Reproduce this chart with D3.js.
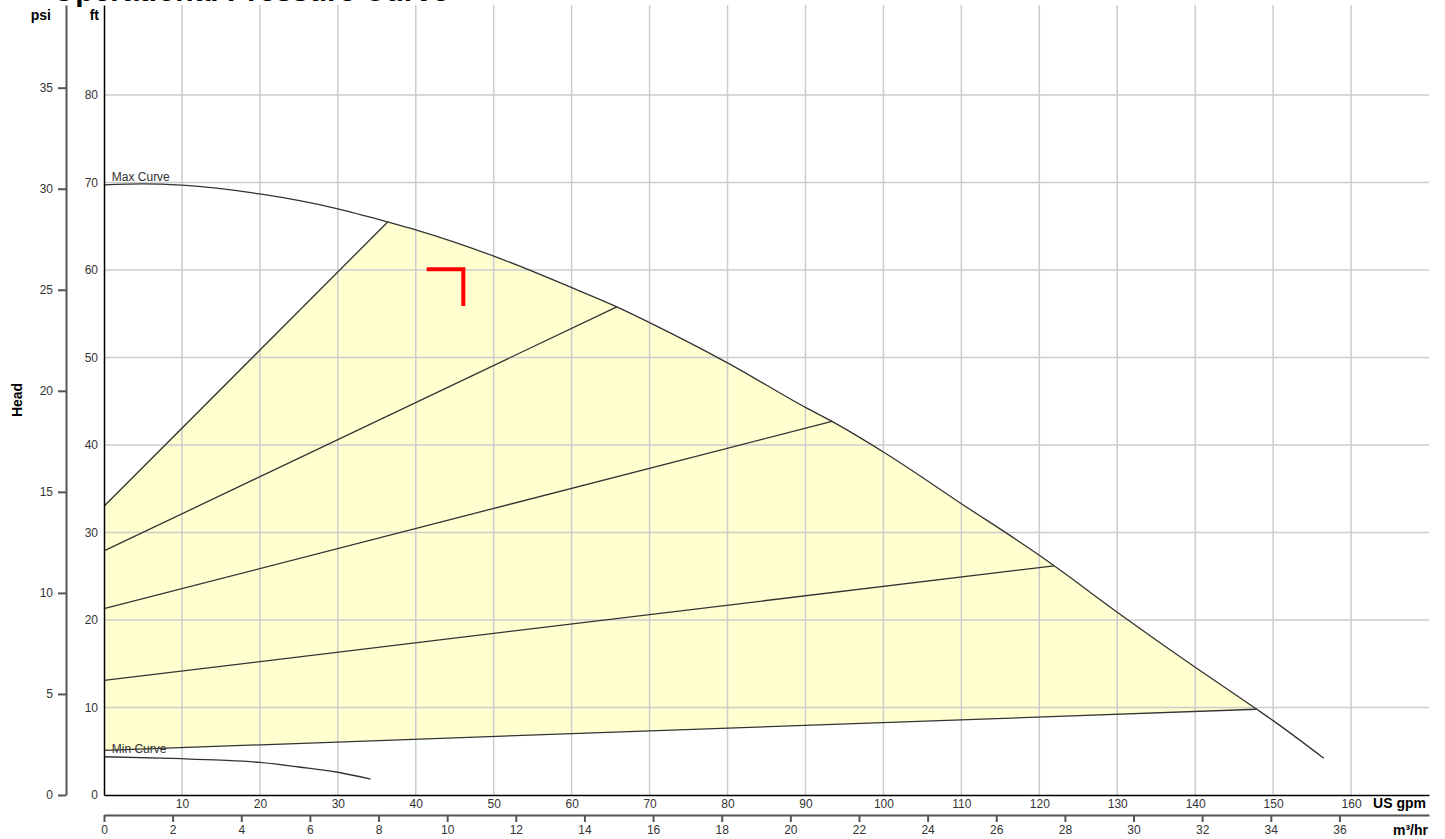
<!DOCTYPE html>
<html>
<head>
<meta charset="utf-8">
<script src="https://cdn.jsdelivr.net/npm/d3@7"></script>
<style>
	body { margin: 0; background: #fff; }
	svg { display: block; font-family: 'Liberation Sans', Arial, sans-serif; }
	.tick text { fill: #333; font-size: 12px; }
</style>
</head>
<body>
<svg id="chart" width="1445" height="839"></svg>
<script>
// flow in US gpm, head in ft
const flowTicks = [10, 20, 30, 40, 50, 60, 70, 80, 90, 100, 110, 120, 130, 140, 150, 160];
const m3Ticks = [0, 2, 4, 6, 8, 10, 12, 14, 16, 18, 20, 22, 24, 26, 28, 30, 32, 34, 36];
const ftTicks = [0, 10, 20, 30, 40, 50, 60, 70, 80];
const psiTicks = [0, 5, 10, 15, 20, 25, 30, 35];

const maxCurveFlow = [0, 5, 10, 20, 30, 36.4, 40, 50, 60, 65.8, 70, 80, 90, 93.4, 100, 110, 120, 121.9, 130, 140, 147.9, 150, 156.5];
const maxCurveHead = [69.75, 69.85, 69.7, 68.7, 67.0, 65.5, 64.6, 61.6, 58.0, 55.8, 54.0, 49.4, 44.3, 42.7, 39.2, 33.3, 27.4, 26.2, 20.9, 14.6, 9.8, 8.5, 4.2];

const minCurveFlow = [0, 10, 15, 20, 25, 30, 34.2];
const minCurveHead = [4.37, 4.15, 3.98, 3.72, 3.2, 2.6, 1.81];

// speed lines: head at zero flow, end point on the max curve
const speedStartHead = [33.0, 27.9, 21.3, 13.1, 5.1];
const speedEndFlow = [36.4, 65.8, 93.4, 121.9, 147.9];
const speedEndHead = [65.5, 55.8, 42.7, 26.2, 9.8];

// duty point marker
const markerFlow = [41.4, 46.1, 46.1];
const markerHead = [60.1, 60.1, 55.9];

const svg = d3.select('#chart');
const plotLeft = 104, plotRight = 1429, plotTop = 5, plotBottom = 795;

const x = d3.scaleLinear().domain([0, 170]).range([plotLeft, plotRight]);
const xM3 = d3.scaleLinear().domain([0, 170 / 4.403]).range([plotLeft, plotRight]);
const y = d3.scaleLinear().domain([0, 90.3]).range([plotBottom, plotTop]);
const yPsi = d3.scaleLinear().domain([0, 90.3 / 2.31]).range([plotBottom, plotTop]);

const line = d3.line().x((d) => x(d[0])).y((d) => y(d[1]));
const smooth = d3.line().x((d) => x(d[0])).y((d) => y(d[1])).curve(d3.curveMonotoneX);

// title, cut off by the top edge like in the original
svg.append('text')
	.attr('x', 52).attr('y', 1)
	.style('font-size', '30px').style('font-weight', 'bold').attr('fill', '#000')
	.text('Operational Pressure Curve');

// yellow operating area
const area = [[0, speedStartHead[0]]];
maxCurveFlow.forEach((f, i) => {
	if (f >= speedEndFlow[0] && f <= speedEndFlow[4]) area.push([f, maxCurveHead[i]]);
});
area.push([0, speedStartHead[4]]);
svg.append('path').attr('d', line(area) + 'Z').attr('fill', '#ffffd0');

// grid
svg.append('g').selectAll('line').data(flowTicks).join('line')
	.attr('x1', (d) => x(d)).attr('x2', (d) => x(d))
	.attr('y1', plotTop).attr('y2', plotBottom)
	.attr('stroke', '#cccccc').attr('stroke-width', 1.5);
svg.append('g').selectAll('line').data(ftTicks.filter((d) => d > 0)).join('line')
	.attr('x1', plotLeft).attr('x2', plotRight)
	.attr('y1', (d) => y(d)).attr('y2', (d) => y(d))
	.attr('stroke', '#cccccc').attr('stroke-width', 1.5);

// curves
svg.append('path')
	.attr('d', smooth(maxCurveFlow.map((f, i) => [f, maxCurveHead[i]])))
	.attr('fill', 'none').attr('stroke', '#333').attr('stroke-width', 1.3);
svg.append('path')
	.attr('d', smooth(minCurveFlow.map((f, i) => [f, minCurveHead[i]])))
	.attr('fill', 'none').attr('stroke', '#333').attr('stroke-width', 1.3);
speedStartHead.forEach((h, i) => {
	svg.append('path')
		.attr('d', line([[0, h], [speedEndFlow[i], speedEndHead[i]]]))
		.attr('fill', 'none').attr('stroke', '#333').attr('stroke-width', 1.3);
});

svg.append('path')
	.attr('d', line(markerFlow.map((f, i) => [f, markerHead[i]])))
	.attr('fill', 'none').attr('stroke', '#ff0000').attr('stroke-width', 4);

svg.append('text').attr('x', x(1)).attr('y', y(maxCurveHead[0]) - 4)
	.style('font-size', '12px').attr('fill', '#333').text('Max Curve');
svg.append('text').attr('x', x(1)).attr('y', y(minCurveHead[0]) - 4)
	.style('font-size', '12px').attr('fill', '#333').text('Min Curve');

// axes
const ftAxis = svg.append('g').attr('transform', `translate(${plotLeft},0)`)
	.call(d3.axisLeft(y).tickValues(ftTicks).tickSize(0).tickSizeOuter(0).tickPadding(6));
ftAxis.select('.domain').attr('stroke', '#000').attr('stroke-width', 1.5);

const psiAxis = svg.append('g').attr('transform', 'translate(66,0)')
	.call(d3.axisLeft(yPsi).tickValues(psiTicks).tickSize(8).tickSizeOuter(0).tickPadding(5));
psiAxis.selectAll('.domain, .tick line').attr('stroke', '#555').attr('stroke-width', 2);

const gpmAxis = svg.append('g').attr('transform', `translate(0,${plotBottom})`)
	.call(d3.axisBottom(x).tickValues(flowTicks).tickSize(0).tickSizeOuter(0).tickPadding(4));
gpmAxis.select('.domain').attr('stroke', '#000').attr('stroke-width', 1.5);

const m3Axis = svg.append('g').attr('transform', 'translate(0,815)')
	.call(d3.axisBottom(xM3).tickValues(m3Ticks).tickSize(7).tickSizeOuter(0).tickPadding(3));
m3Axis.selectAll('.domain, .tick line').attr('stroke', '#555').attr('stroke-width', 2);

// axis titles
const bold = (sel) => sel.style('font-size', '14px').style('font-weight', 'bold').attr('fill', '#000');
svg.append('text').attr('x', 51).attr('y', 20).attr('text-anchor', 'end').text('psi').call(bold);
svg.append('text').attr('x', 99).attr('y', 20).attr('text-anchor', 'end').text('ft').call(bold);
svg.append('text').attr('transform', 'translate(22,400) rotate(-90)').attr('text-anchor', 'middle').text('Head').call(bold);
svg.append('text').attr('x', 1426).attr('y', 808).attr('text-anchor', 'end').text('US gpm').call(bold);
svg.append('text').attr('x', 1428).attr('y', 835).attr('text-anchor', 'end').text('m³/hr').call(bold);
</script>
</body>
</html>
